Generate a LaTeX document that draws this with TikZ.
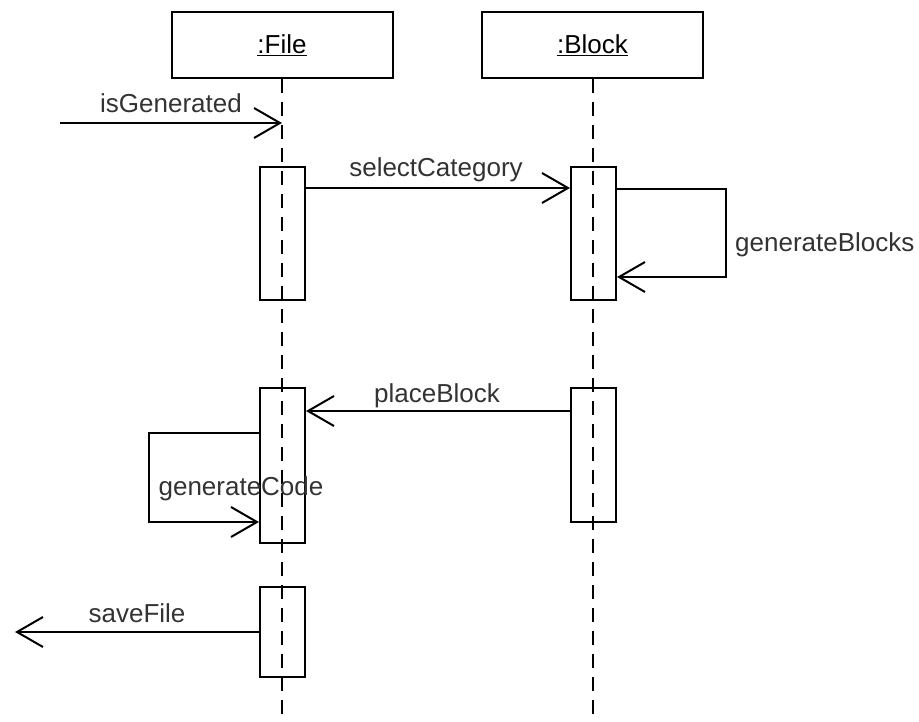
\documentclass[tikz,border=0pt]{standalone}
\usepackage{fontspec}
\setmainfont{Liberation Sans}
\usetikzlibrary{arrows.meta}
\begin{document}
\begin{tikzpicture}[x=1pt,y=-1pt,
  txt/.style={font=\fontsize{26}{30}\selectfont},
  head/.style={draw,line width=2pt,minimum width=221pt,minimum height=66pt,inner sep=0pt,txt},
  act/.style={draw,line width=2pt,minimum width=45pt,inner sep=0pt},
  life/.style={line width=2pt,dash pattern=on 14pt off 9pt},
  msg/.style={line width=2pt,-{Straight Barb[length=26pt,width=30pt,line width=2pt]}},
  lbl/.style={txt,text=black!80,inner sep=0pt,anchor=base}]
\useasboundingbox (0,0) rectangle (919,722);

% object heads
\node[head] (fileHead)  at (282,45) {\underline{:File}};
\node[head] (blockHead) at (592.5,45) {\underline{:Block}};

% lifelines
\coordinate (bottom) at (0,722);
\draw[life] (fileHead.south) -- (fileHead.south |- bottom);
\draw[life] ([xshift=0.5pt]blockHead.south) -- ([xshift=0.5pt]blockHead.south |- bottom);

% activation bars
\node[act,minimum height=133pt] (fa1) at (282.5,233.5) {};
\node[act,minimum height=133pt] (ba1) at (593.5,233.5) {};
\node[act,minimum height=155pt] (fa2) at (282.5,465.5) {};
\node[act,minimum height=134pt] (ba2) at (593.5,455) {};
\node[act,minimum height=90pt]  (fa3) at (282.5,632) {};

% isGenerated (found message)
\coordinate (isIn) at (60,123);
\draw[msg] (isIn) -- (isIn -| fileHead.south);
\node[lbl] (lIs) at (171,113) {isGenerated};

% selectCategory
\coordinate (sc) at (0,188);
\draw[msg] (fa1.east |- sc) -- (ba1.west |- sc);
\node[lbl] (lSc) at (436,177) {selectCategory};

% generateBlocks (self call)
\coordinate (gbTop) at (726,189);
\coordinate (gbBot) at (726,277);
\draw[msg] (ba1.east |- gbTop) -- (gbTop) -- (gbBot) -- (ba1.east |- gbBot);
\node[lbl,anchor=base west] (lGb) at (735,252) {generateBlocks};

% placeBlock
\coordinate (pb) at (0,411);
\draw[msg] (ba2.west |- pb) -- (fa2.east |- pb);
\node[lbl] (lPb) at (437,402) {placeBlock};

% generateCode (self call)
\coordinate (gcTop) at (149,433);
\coordinate (gcBot) at (149,522);
\node[lbl] (lGc) at (241,495) {generateCode};
\draw[msg] (fa2.west |- gcTop) -- (gcTop) -- (gcBot) -- (fa2.west |- gcBot);

% saveFile (lost message)
\coordinate (sfOut) at (15,632);
\draw[msg] (fa3.west |- sfOut) -- (sfOut);
\node[lbl] (lSf) at (137,622) {saveFile};
\end{tikzpicture}
\end{document}
